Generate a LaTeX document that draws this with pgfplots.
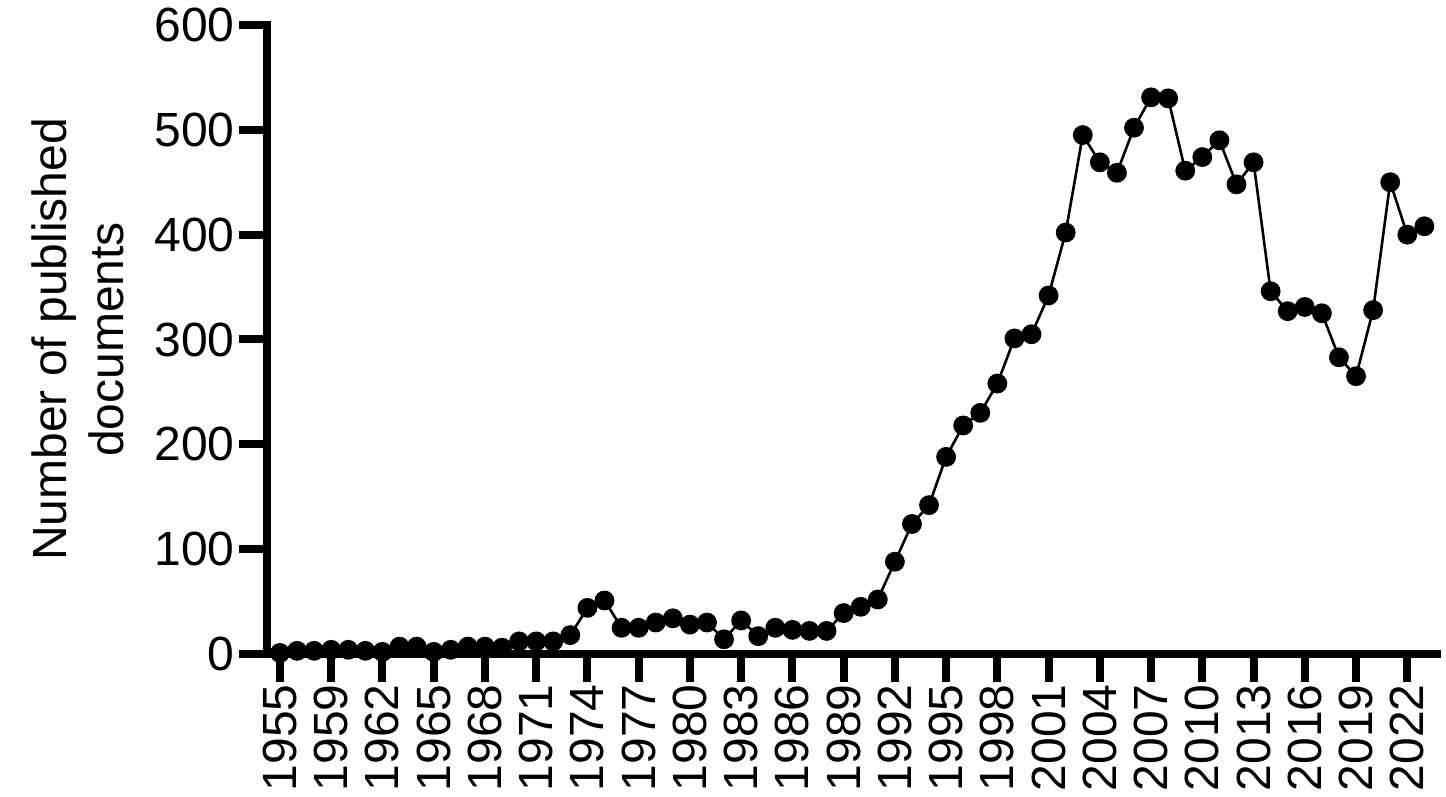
\documentclass[border=0pt]{standalone}
\usepackage{fontspec}
\setmainfont{Liberation Sans}
\usepackage{pgfplots}
\pgfplotsset{compat=1.18}
\usepackage{pgfplotstable}

\pgfplotstableread{
idx year value
0 1955 1
1 1957 3
2 1958 3
3 1959 4
4 1960 4
5 1961 3
6 1962 2
7 1963 7
8 1964 7
9 1965 2
10 1966 4
11 1967 7
12 1968 7
13 1969 6
14 1970 12
15 1971 12
16 1972 12
17 1973 18
18 1974 44
19 1975 51
20 1976 25
21 1977 25
22 1978 30
23 1979 34
24 1980 28
25 1981 30
26 1982 14
27 1983 32
28 1984 17
29 1985 25
30 1986 23
31 1987 22
32 1988 22
33 1989 39
34 1990 45
35 1991 52
36 1992 88
37 1993 124
38 1994 142
39 1995 188
40 1996 218
41 1997 230
42 1998 258
43 1999 301
44 2000 305
45 2001 342
46 2002 402
47 2003 495
48 2004 469
49 2005 459
50 2006 502
51 2007 531
52 2008 530
53 2009 461
54 2010 474
55 2011 490
56 2012 448
57 2013 469
58 2014 346
59 2015 327
60 2016 331
61 2017 325
62 2018 283
63 2019 265
64 2020 328
65 2021 450
66 2022 400
67 2023 408
}\datatable

\begin{document}
\fontsize{24bp}{28.5bp}\selectfont
\begin{tikzpicture}
\begin{axis}[
  name=ax,
  scale only axis,
  width=585bp, height=314.5bp,
  xmin=-0.76, xmax=67.74,
  ymin=0, ymax=600,
  clip=false,
  axis x line=bottom, axis y line=left,
  axis line style={line width=4bp, -, line cap=rect},
  tick align=outside,
  major tick length=14bp,
  every tick/.style={line width=4bp, black},
  xtick={0,3,...,66},
  xticklabels={1955,1959,1962,1965,1968,1971,1974,1977,1980,1983,1986,1989,1992,1995,1998,2001,2004,2007,2010,2013,2016,2019,2022},
  ytick={0,100,...,600},
  minor tick num=0,
  /pgf/number format/assume math mode=true,
  tick label style={font=\fontsize{24bp}{28.5bp}\selectfont},
  xticklabel style={rotate=90, anchor=east, inner sep=1bp},
  yticklabel style={inner sep=2bp},
  ylabel={Number of published\\documents},
  ylabel style={align=center, font=\fontsize{24bp}{28.5bp}\selectfont, at={(axis description cs:-0.1615,0.5)}, anchor=center, rotate=0},
]
\addplot[black, line width=1.3bp, mark=*, mark size=4.3bp, mark options={solid, fill=black}] table[x=idx, y=value] {\datatable};
\end{axis}
\pgfresetboundingbox
\path[use as bounding box] ([xshift=-133.5bp, yshift=-71.5bp]ax.south west) rectangle ([xshift=4.5bp, yshift=12.5bp]ax.north east);
\end{tikzpicture}
\end{document}
